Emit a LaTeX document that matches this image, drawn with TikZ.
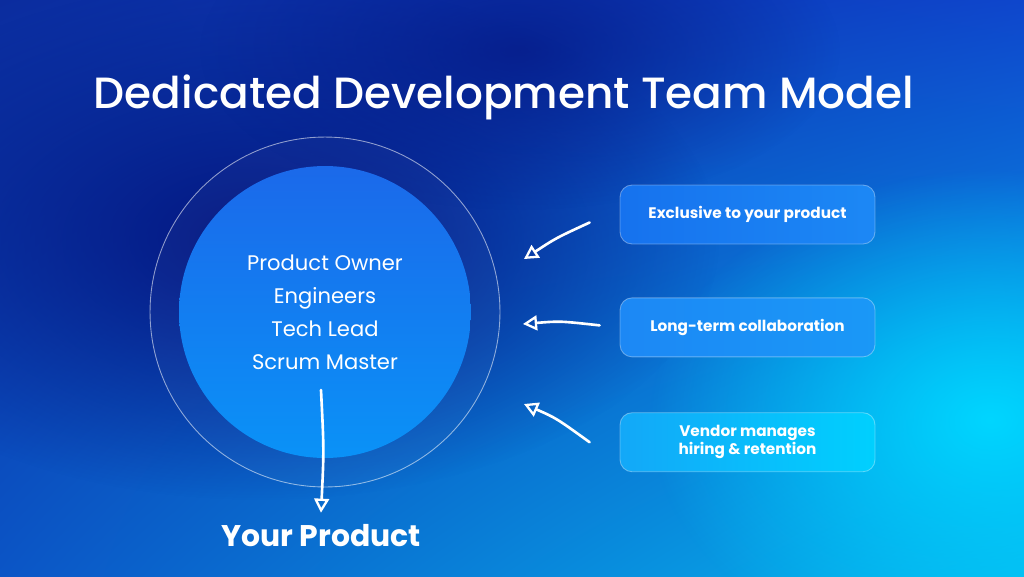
\documentclass[tikz,border=0pt]{standalone}
\usepackage{fontspec}
\setmainfont{Poppins}
\newfontfamily\poppinsmedium{Poppins Medium}
\usetikzlibrary{arrows.meta, positioning, fadings, shadings}

\definecolor{bgtopleft}{HTML}{0B2C9E}
\definecolor{bgtopright}{HTML}{0E46CC}
\definecolor{bgbottomleft}{HTML}{0B55C6}
\definecolor{bgbottomright}{HTML}{06B6EE}
\definecolor{bgnavy}{HTML}{04147F}
\definecolor{bgcyan}{HTML}{00D6FF}
\definecolor{coretop}{HTML}{1B69EA}
\definecolor{corebottom}{HTML}{0A92F7}
\definecolor{perkA}{HTML}{1672EE}
\definecolor{perkB}{HTML}{1C88F5}
\definecolor{perkC}{HTML}{1A98F7}
\definecolor{perkD}{HTML}{13A8F8}
\definecolor{perkE}{HTML}{00D0FE}

\tikzfading[name=softglow, inner color=transparent!0, outer color=transparent!100]

\tikzset{
  perk/.style={rounded corners=0.24cm, minimum width=5.1cm, minimum height=1.18cm,
    draw=white, draw opacity=0.35, line width=0.5pt, text=white, align=center,
    font=\bfseries\fontsize{8.7}{10.4}\selectfont},
  handarrow/.style={draw=white, line width=1.5pt, line cap=round,
    -{Triangle[open, length=8pt, width=8.5pt, line width=1.3pt]}},
}

\begin{document}
\begin{tikzpicture}[x=0.02cm, y=-0.02cm]
  \useasboundingbox (0,0) rectangle (1024,576);
  % background
  \shade[upper left=bgtopleft, upper right=bgtopright, lower left=bgbottomleft,
    lower right=bgbottomright] (0,0) rectangle (1024,576);
  \fill[bgnavy, path fading=softglow] (260,240) ellipse (460 and 260);
  \fill[bgnavy, opacity=0.7, path fading=softglow] (520,50) ellipse (320 and 160);
  \fill[bgcyan, path fading=softglow] (990,420) ellipse (340 and 250);

  % title
  \node[anchor=base, text=white, font=\poppinsmedium\fontsize{24.9}{30}\selectfont]
    (title) at (504,108) {Dedicated Development Team Model};

  % team circle
  \node[circle, minimum size=7cm, fill=white, fill opacity=0.03, draw=white,
    draw opacity=0.55, line width=0.5pt] (ring) at (325,312) {};
  \node[circle, minimum size=5.84cm, top color=coretop, bottom color=corebottom]
    (core) at (325,312) {};
  \node[text=white, align=center, font=\fontsize{12}{18.8}\selectfont]
    (roles) at (325,312) {Product Owner\\Engineers\\Tech Lead\\Scrum Master};

  % output
  \node[anchor=base, text=white, font=\bfseries\fontsize{17}{20}\selectfont]
    (product) at (321,546) {Your Product};
  \coordinate (out) at (321,390);
  \draw[handarrow] (out) .. controls (324,450) .. ([yshift=0.1cm]product.north);

  % model traits
  \node[perk, left color=perkA, right color=perkB]
    (excl) at (747.5,214.5) {Exclusive to your product};
  \node[perk, left color=perkB, right color=perkC, below=1.06cm of excl]
    (longterm) {Long-term collaboration};
  \node[perk, left color=perkD, right color=perkE, below=1.1cm of longterm]
    (vendor) {Vendor manages\\hiring \& retention};

  % arrows toward the team
  \coordinate (in1) at (524,259);
  \coordinate (in2) at (523,324);
  \coordinate (in3) at (524,404);
  \draw[handarrow] ([xshift=-0.6cm,yshift=-0.16cm]excl.west) .. controls (556,238) .. (in1);
  \draw[handarrow] ([xshift=-0.4cm,yshift=0.04cm]longterm.west) .. controls (560,321) .. (in2);
  \draw[handarrow] ([xshift=-0.6cm]vendor.west) .. controls (556,418) .. (in3);
\end{tikzpicture}
\end{document}
